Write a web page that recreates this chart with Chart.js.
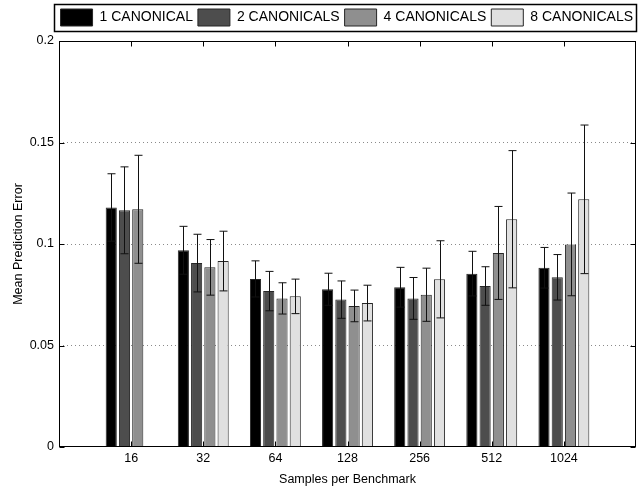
<!DOCTYPE html>
<html>
<head>
<meta charset="utf-8">
<script src="https://cdn.jsdelivr.net/npm/chart.js@4"></script>
<style>
  body { margin: 0; background: #fff; }
  #wrap { width: 640px; height: 491px; }
</style>
</head>
<body>
<div id="wrap"><canvas id="errChart" width="640" height="491"></canvas></div>
<script>
const categories = ['16', '32', '64', '128', '256', '512', '1024'];
const seriesNames = ['1 CANONICAL', '2 CANONICALS', '4 CANONICALS', '8 CANONICALS'];

const oneMean = [0.118, 0.0969, 0.0828, 0.0777, 0.0787, 0.0854, 0.0883];
const oneErr = [0.0166, 0.0118, 0.0089, 0.0079, 0.0098, 0.0110, 0.0100];
const twoMean = [0.1166, 0.0906, 0.0768, 0.0726, 0.0732, 0.0793, 0.0836];
const twoErr = [0.0214, 0.0142, 0.0097, 0.0092, 0.0103, 0.0095, 0.0112];
const fourMean = [0.1171, 0.0885, 0.0732, 0.0695, 0.0750, 0.0956, 0.0998];
const fourErr = [0.0266, 0.0137, 0.0077, 0.0078, 0.0131, 0.0229, 0.0253];
const eightMean = [null, 0.0916, 0.0742, 0.0709, 0.0826, 0.1122, 0.1220];
const eightErr = [null, 0.0147, 0.0085, 0.0088, 0.0190, 0.0338, 0.0366];

const yTicks = [0, 0.05, 0.1, 0.15, 0.2];

const fills = ['#000000', '#4d4d4d', '#8f8f8f', '#e0e0e0'];
const means = [oneMean, twoMean, fourMean, eightMean];
const errs = [oneErr, twoErr, fourErr, eightErr];

// empty slots at both ends so the x range runs 0..8 like the original
const labels = [''].concat(categories, ['']);
const pad = arr => [null].concat(arr, [null]);

const FONT = 'Liberation Sans, Arial, Helvetica, sans-serif';

const errorBars = {
    id: 'errorBars',
    afterDatasetsDraw(chart) {
        const ctx = chart.ctx;
        const y = chart.scales.y;
        ctx.save();
        ctx.strokeStyle = '#111';
        ctx.lineWidth = 1;
        chart.data.datasets.forEach((ds, di) => {
            const meta = chart.getDatasetMeta(di);
            meta.data.forEach((bar, i) => {
                const m = ds.data[i];
                const e = ds.errors[i];
                if (m == null || e == null) return;
                const x = Math.round(bar.x) + 0.5;
                const top = y.getPixelForValue(m + e);
                const bot = y.getPixelForValue(m - e);
                ctx.beginPath();
                ctx.moveTo(x, top);
                ctx.lineTo(x, bot);
                ctx.moveTo(x - 4, top);
                ctx.lineTo(x + 4, top);
                ctx.moveTo(x - 4, bot);
                ctx.lineTo(x + 4, bot);
                ctx.stroke();
            });
        });
        ctx.restore();
    }
};

const frame = {
    id: 'frame',
    afterDraw(chart) {
        const ctx = chart.ctx;
        const a = chart.chartArea;
        const xs = chart.scales.x;
        const ys = chart.scales.y;
        ctx.save();
        ctx.strokeStyle = '#000';
        ctx.lineWidth = 1;
        const l = Math.round(a.left) + 0.5, r = Math.round(a.right) - 0.5;
        const t = Math.round(a.top) + 0.5, b = Math.round(a.bottom) - 0.5;
        ctx.strokeRect(l, t, r - l, b - t);
        ctx.beginPath();
        categories.forEach((c, i) => {
            const x = Math.round(xs.getPixelForValue(i + 1)) + 0.5;
            ctx.moveTo(x, t); ctx.lineTo(x, t + 5);
            ctx.moveTo(x, b); ctx.lineTo(x, b - 5);
        });
        yTicks.forEach(v => {
            const yy = Math.round(ys.getPixelForValue(v)) + 0.5;
            ctx.moveTo(l, yy); ctx.lineTo(l + 5, yy);
            ctx.moveTo(r, yy); ctx.lineTo(r - 5, yy);
        });
        ctx.stroke();

        // box round the legend
        const hb = chart.legend.legendHitBoxes;
        if (hb && hb.length) {
            const first = hb[0], last = hb[hb.length - 1];
            const lx = Math.round(first.left - 7) + 0.5;
            const rx = Math.round(last.left + last.width + 3) + 0.5;
            const ty = Math.round(first.top - 5) + 0.5;
            const by = Math.round(first.top + first.height + 5) + 0.5;
            ctx.lineWidth = 1.5;
            ctx.strokeRect(lx, ty, rx - lx, by - ty);
        }
        ctx.restore();
    }
};

const legendHeight = {
    id: 'legendHeight',
    beforeInit(chart) {
        const fit = chart.legend.fit;
        chart.legend.fit = function () {
            fit.bind(chart.legend)();
            this.height = 37;
        };
    }
};

const ctx = document.getElementById('errChart').getContext('2d');
new Chart(ctx, {
    type: 'bar',
    data: {
        labels: labels,
        datasets: seriesNames.map((name, k) => ({
            label: name,
            data: pad(means[k]),
            errors: pad(errs[k]),
            backgroundColor: fills[k],
            borderColor: '#262626',
            borderWidth: 1,
            categoryPercentage: 0.735,
            barPercentage: 0.84
        }))
    },
    options: {
        responsive: false,
        animation: false,
        layout: { padding: { top: 4, right: 2, left: 0, bottom: 0 } },
        plugins: {
            tooltip: { enabled: false },
            legend: {
                position: 'top',
                align: 'end',
                labels: {
                    boxWidth: 32,
                    boxHeight: 17,
                    padding: 5,
                    color: '#000',
                    font: { family: FONT, size: 14 }
                }
            }
        },
        scales: {
            x: {
                offset: false,
                grid: { display: false, drawTicks: false },
                border: { display: false },
                ticks: {
                    autoSkip: false,
                    maxRotation: 0,
                    padding: 4,
                    color: '#000',
                    font: { family: FONT, size: 12.5 }
                },
                title: {
                    display: true,
                    text: 'Samples per Benchmark',
                    color: '#000',
                    font: { family: FONT, size: 12.5 },
                    padding: { top: 4, bottom: 3.5 }
                },
                afterFit(scale) { scale.height = 44; }
            },
            y: {
                min: 0,
                max: 0.2,
                afterBuildTicks(scale) {
                    scale.ticks = yTicks.map(v => ({ value: v }));
                },
                grid: {
                    drawTicks: false,
                    color: ctx2 => (ctx2.tick.value > 0 && ctx2.tick.value < 0.2) ? '#8a8a8a' : 'rgba(0,0,0,0)',
                    lineWidth: 1
                },
                border: { display: false, dash: [1, 3] },
                ticks: {
                    padding: 5,
                    color: '#000',
                    font: { family: FONT, size: 12.5 },
                    callback: v => String(+Number(v).toFixed(2))
                },
                title: {
                    display: true,
                    text: 'Mean Prediction Error',
                    color: '#000',
                    font: { family: FONT, size: 12.5 },
                    padding: { top: 11.5, bottom: 0 }
                },
                afterFit(scale) { scale.width = 59; }
            }
        }
    },
    plugins: [legendHeight, errorBars, frame]
});
</script>
</body>
</html>
